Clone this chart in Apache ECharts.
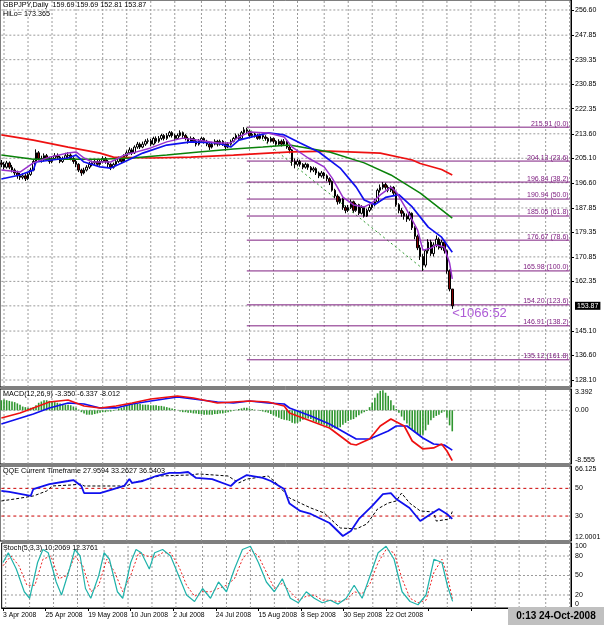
<!DOCTYPE html>
<html><head><meta charset="utf-8">
<script src="https://cdn.jsdelivr.net/npm/echarts@6/dist/echarts.min.js"></script>
<style>html,body{margin:0;padding:0;background:#fff}#c{width:604px;height:625px}</style>
</head><body><div id="c"></div>
<script>
// ---------- DATA ----------
const dateLabels = ['3 Apr 2008','25 Apr 2008','19 May 2008','10 Jun 2008','2 Jul 2008','24 Jul 2008','15 Aug 2008','8 Sep 2008','30 Sep 2008','22 Oct 2008'];
const priceTicks = [256.60,247.85,239.35,230.85,222.35,213.60,205.10,196.60,187.85,179.35,170.85,162.35,145.10,136.60,128.10];
const hiddenPriceTick = 153.85; // grid line behind the current-price box
const macdTicks = [3.392, 0, -8.555];
const qqeTicks = [66.125, 50, 30, 12.0001];
const stochTicks = [100, 80, 50, 20, 0];
const lastPrice = 153.87;
// candles: [open, close, low, high]
const ohlc = [
[203.5,203.0,202.0,204.5],[203.0,202.0,201.2,203.8],[202.0,203.5,201.5,204.2],[203.5,202.0,201.3,204.0],[202.0,201.0,200.2,202.8],
[201.0,200.0,199.2,201.6],[200.0,199.0,198.0,200.8],[199.0,198.5,197.6,200.0],[198.5,199.0,197.8,199.9],[199.0,198.0,197.2,199.6],
[198.0,199.5,197.5,200.2],[199.5,201.0,199.0,201.8],[201.0,204.0,200.6,204.6],[204.0,207.0,203.5,208.2],[207.0,205.0,204.3,207.6],
[205.0,204.5,203.6,206.0],[204.5,206.0,204.0,206.8],[206.0,205.0,204.2,206.6],[205.0,204.0,203.2,205.6],[204.0,205.0,203.4,205.8],
[205.0,206.0,204.5,206.9],[206.0,205.5,204.8,206.8],[205.5,204.0,203.4,206.0],[204.0,205.0,203.5,205.7],[205.0,206.0,204.6,207.0],
[206.0,206.2,205.0,207.2],[206.2,205.0,204.4,206.8],[205.0,204.0,203.2,205.5],[204.0,203.0,202.0,204.6],[203.0,201.0,200.3,203.4],
[201.0,200.0,199.0,201.5],[200.0,201.0,199.5,201.8],[201.0,202.0,200.5,202.7],[202.0,203.0,201.4,203.8],[203.0,203.5,202.3,204.3],
[203.5,204.0,202.8,204.9],[204.0,203.0,202.2,204.6],[203.0,204.0,202.5,204.7],[204.0,205.0,203.3,205.8],[205.0,204.0,203.2,205.6],
[204.0,203.0,202.0,204.5],[203.0,202.0,201.0,203.4],[202.0,203.0,201.5,203.6],[203.0,204.0,202.4,204.8],[204.0,205.0,203.5,205.7],
[205.0,204.0,203.3,205.6],[204.0,206.0,203.6,206.5],[206.0,207.0,205.4,207.8],[207.0,208.0,206.5,208.9],[208.0,207.0,206.2,208.6],
[207.0,209.0,206.6,209.6],[209.0,210.0,208.4,210.8],[210.0,209.0,208.3,210.6],[209.0,210.0,208.6,210.9],[210.0,211.0,209.4,211.7],
[211.0,211.2,210.2,212.0],[211.2,210.0,209.4,211.8],[210.0,212.0,209.6,212.6],[212.0,211.0,210.3,212.7],[211.0,212.0,210.5,212.8],
[212.0,213.0,211.4,213.6],[213.0,212.0,211.3,213.5],[212.0,213.0,211.5,213.8],[213.0,214.0,212.4,214.6],[214.0,213.0,212.3,214.5],
[213.0,212.0,211.2,213.6],[212.0,213.0,211.5,213.7],[213.0,214.0,212.6,214.8],[214.0,213.0,212.2,214.4],[213.0,212.0,211.3,213.5],
[212.0,211.0,210.2,212.6],[211.0,212.0,210.6,212.7],[212.0,211.0,210.4,212.5],[211.0,210.0,209.2,211.6],[210.0,211.0,209.5,211.8],
[211.0,212.0,210.4,212.6],[212.0,211.0,210.2,212.4],[211.0,210.0,209.3,211.5],[210.0,209.0,208.0,210.5],[209.0,210.0,208.5,210.8],
[210.0,211.0,209.6,211.7],[211.0,210.0,209.2,211.5],[210.0,211.0,209.5,211.6],[211.0,210.0,209.4,211.4],[210.0,209.0,207.8,210.4],
[209.0,210.0,208.6,210.7],[210.0,211.0,209.5,211.6],[211.0,212.0,210.6,212.5],[212.0,213.0,211.5,213.7],[213.0,212.0,211.4,213.5],
[212.0,214.0,211.7,214.6],[214.0,215.0,213.5,215.91],[215.0,214.5,213.8,215.7],[214.5,213.0,212.5,215.0],[213.0,213.5,212.4,214.3],
[213.5,213.0,212.3,214.0],[213.0,212.0,211.5,213.6],[212.0,213.0,211.6,213.7],[213.0,212.5,211.8,213.6],[212.5,212.0,211.2,213.1],
[212.0,211.0,210.3,212.4],[211.0,212.0,210.6,212.6],[212.0,211.0,210.2,212.3],[211.0,210.0,209.3,211.4],[210.0,211.0,209.6,211.7],
[211.0,210.0,209.2,211.6],[210.0,211.0,209.5,211.8],[211.0,209.0,208.4,211.3],[209.0,208.0,206.8,209.5],[208.0,204.0,202.5,208.3],
[204.0,203.0,201.6,205.0],[203.0,204.0,202.4,204.8],[204.0,203.0,202.2,204.6],[203.0,202.0,201.3,203.4],[202.0,203.0,201.5,203.6],
[203.0,202.0,201.1,203.3],[202.0,201.0,200.2,202.4],[201.0,201.5,200.3,202.2],[201.5,200.0,199.3,202.0],[200.0,199.0,198.2,200.5],
[199.0,200.0,198.4,200.7],[200.0,199.0,198.0,200.4],[199.0,198.0,197.1,199.5],[198.0,197.0,195.8,198.5],[197.0,194.0,193.5,197.4],
[194.0,192.0,191.2,194.5],[192.0,190.0,189.0,192.6],[190.0,191.0,189.3,191.8],[191.0,188.0,187.2,191.4],[188.0,187.0,186.0,188.7],
[187.0,188.0,186.4,188.9],[188.0,190.0,187.5,190.8],[190.0,187.0,186.2,190.4],[187.0,189.0,186.5,189.6],[189.0,186.0,185.4,189.3],
[186.0,188.0,185.6,188.8],[188.0,185.0,184.5,188.3],[185.0,187.0,184.7,187.6],[187.0,188.0,186.4,188.9],[188.0,189.0,187.3,189.8],
[189.0,190.0,188.4,191.0],[190.0,194.0,189.6,194.6],[194.0,195.0,193.2,196.0],[195.0,196.0,194.3,196.8],[196.0,195.0,194.2,196.6],
[195.0,194.0,193.3,195.7],[194.0,195.0,193.4,195.6],[195.0,193.0,192.0,195.4],[193.0,189.0,188.3,193.3],[189.0,187.0,186.0,189.5],
[187.0,186.0,184.8,187.8],[186.0,185.0,183.8,186.7],[185.0,184.0,183.0,185.9],[184.0,186.0,183.4,186.6],[186.0,181.0,180.2,186.3],
[181.0,178.0,177.0,181.5],[178.0,174.0,173.2,178.6],[174.0,171.0,169.8,175.0],[171.0,168.0,165.98,171.8],[168.0,173.0,167.2,173.6],
[173.0,176.0,172.0,177.0],[176.0,172.0,171.2,176.8],[172.0,175.0,171.0,175.9],[175.0,177.0,174.2,178.3],[177.0,174.0,173.4,177.6],
[174.0,176.0,173.2,176.8],[176.0,173.0,172.0,176.6],[173.0,166.0,165.0,173.4],[166.0,159.7,158.9,166.5],[159.69,153.87,152.81,159.69]
];
// moving averages: [barIndex, value]
const maRed = [[0,213.2],[12,211.4],[25,209.0],[37,206.9],[42,205.5],[56,205.2],[71,205.5],[87,206.2],[100,206.9],[109,207.3],[123,207.6],[142,206.9],[154,204.5],[157,203.3],[165,201.2],[169,199.3]];
const maGreen = [[0,206.2],[12,204.8],[25,204.8],[37,204.8],[49,205.2],[62,206.2],[74,207.3],[87,208.3],[98,209.0],[108,209.7],[123,207.3],[136,203.5],[146,199.3],[157,193.0],[169,184.3]];
const maBlue = [[0,197.9],[7,199.3],[12,201.0],[13,203.8],[25,205.2],[28,206.2],[31,203.8],[37,202.1],[41,201.7],[46,203.8],[53,206.9],[62,209.7],[71,210.8],[81,210.4],[86,209.0],[89,211.4],[100,213.9],[106,213.2],[112,210.4],[119,207.3],[127,201.7],[133,195.1],[136,190.6],[140,189.0],[144,191.5],[149,192.5],[154,188.2],[160,181.2],[165,177.7],[169,172.5]];
const maPurple = [[0,201.0],[7,200.3],[12,203.5],[18,205.5],[25,206.9],[28,207.3],[31,205.2],[34,203.8],[41,203.8],[46,206.2],[49,206.9],[56,208.7],[62,210.8],[68,212.1],[74,211.4],[81,210.4],[86,210.4],[89,212.5],[93,214.2],[100,213.9],[106,212.5],[109,209.0],[115,205.2],[121,202.1],[124,198.2],[128,191.6],[132,188.9],[136,188.2],[139,189.6],[142,192.4],[146,195.1],[148,193.4],[152,187.1],[156,180.2],[158,173.2],[161,173.9],[163,175.0],[166,174.3],[168,168.7],[169,163.2]];
const fibLevels = [215.91,204.13,196.84,190.94,185.05,176.67,165.98,154.20,146.91,135.12];
const fibNames = ['0.0','23.6','38.2','50.0','61.8','78.6','100.0','123.6','138.2','161.8'];
const fibStartBar = 92;
const fibTrend = [[92,215.91],[159,165.98]];
const timerText = '<1066:52';
const timerPoint = [169, 151.3];
// MACD
const macdHist = [
1.6,1.7,1.6,1.5,1.4,1.3,1.1,0.9,0.6,0.5,0.4,0.4,0.5,0.8,1.2,1.4,1.6,1.6,1.5,1.4,
1.3,1.2,1.1,1.0,0.9,0.9,0.8,0.6,0.4,0.1,-0.3,-0.5,-0.7,-0.7,-0.7,-0.6,-0.5,-0.4,-0.3,-0.3,
-0.2,-0.2,-0.1,0.1,0.3,0.4,0.6,0.8,1.0,1.0,1.1,1.0,1.0,0.9,0.9,0.9,0.8,0.8,0.8,0.7,
0.7,0.6,0.5,0.4,0.3,0.2,0.0,-0.2,-0.3,-0.3,-0.4,-0.4,-0.5,-0.5,-0.6,-0.6,-0.7,-0.7,-0.7,-0.7,
-0.6,-0.6,-0.5,-0.5,-0.4,-0.3,-0.2,-0.1,0.1,0.2,0.3,0.4,0.4,0.3,0.2,0.1,0.0,-0.1,-0.2,-0.3,
-0.4,-0.6,-0.8,-1.0,-1.2,-1.4,-1.5,-1.6,-1.7,-2.0,-2.1,-2.0,-1.8,-1.5,-1.3,-1.3,-1.4,-1.7,-1.9,-2.1,
-2.2,-2.3,-2.5,-2.7,-2.8,-2.9,-2.9,-2.7,-2.3,-2.0,-1.7,-1.5,-1.4,-1.1,-0.8,-0.5,-0.3,-0.1,0.5,1.2,
2.0,2.7,3.1,3.2,2.8,2.3,1.6,0.8,0.2,-0.4,-1.0,-1.6,-2.1,-2.6,-3.0,-3.5,-3.8,-4.0,-3.9,-3.2,
-2.3,-1.6,-1.2,-0.9,-0.7,-0.4,-0.2,-1.2,-2.4,-3.35];
const macdBlue = [[0,-2.18],[12,-0.59],[18,0.37],[25,1.16],[31,1.00],[37,0.37],[43,0.37],[49,1.00],[56,1.48],[66,2.12],[72,1.80],[81,1.32],[87,1.16],[93,1.48],[100,1.16],[106,1.00],[108,0.37],[116,-0.91],[123,-2.18],[133,-4.57],[138,-4.57],[145,-3.30],[148,-2.50],[152,-2.50],[158,-4.41],[162,-5.37],[166,-5.53],[169,-6.34]];
const macdRed = [[0,-1.23],[7,-0.43],[12,0.37],[18,1.32],[25,1.64],[31,0.68],[37,0.37],[43,0.68],[49,1.16],[56,1.80],[66,2.28],[72,1.96],[81,1.16],[87,1.32],[93,1.48],[100,1.32],[106,0.68],[108,-0.43],[116,-1.70],[123,-2.82],[131,-5.37],[133,-5.53],[138,-4.57],[142,-2.50],[146,-1.39],[151,-2.50],[154,-4.89],[158,-6.16],[162,-6.00],[165,-5.37],[167,-6.48],[169,-8.01]];
// QQE
const qqeFast = [[0,48.1],[3,47.4],[11,44.5],[12,49.5],[18,53.1],[25,55.3],[27,56.0],[30,51.7],[31,46.6],[37,46.6],[42,49.5],[46,51.7],[48,56.7],[49,53.9],[53,55.3],[58,58.9],[63,61.1],[67,61.1],[70,61.8],[73,57.5],[79,56.7],[86,51.7],[88,55.3],[92,59.6],[98,57.5],[101,55.3],[106,49.5],[108,39.0],[112,33.7],[116,31.5],[123,25.0],[128,15.6],[131,19.2],[134,27.9],[139,37.3],[143,45.9],[146,46.6],[148,42.3],[153,35.8],[157,26.4],[161,31.5],[164,35.1],[167,31.5],[169,27.96]];
const qqeSlow = [[0,40.9],[5,42.3],[12,44.5],[17,48.1],[19,51.7],[26,52.4],[30,53.1],[31,51.7],[47,51.7],[49,53.9],[55,56.7],[59,58.9],[70,59.6],[74,60.4],[85,58.9],[89,53.9],[92,56.7],[100,58.9],[103,53.9],[108,43.0],[112,39.4],[116,35.8],[121,32.2],[127,21.4],[133,20.7],[137,24.3],[141,35.1],[145,39.4],[148,40.9],[150,46.6],[153,39.4],[157,33.7],[162,32.9],[163,26.4],[168,27.9],[169,33.26]];
// Stochastic
const stochMain = [[0,70],[2,85],[5,60],[8,25],[10,15],[13,70],[15,90],[17,85],[20,40],[22,20],[25,60],[27,90],[29,80],[31,30],[33,15],[36,50],[38,85],[40,75],[43,25],[45,15],[48,70],[50,90],[52,85],[55,60],[57,85],[60,90],[63,80],[66,50],[69,20],[72,10],[75,30],[78,15],[81,40],[84,25],[87,60],[90,90],[93,95],[96,70],[99,40],[102,25],[105,45],[108,15],[111,8],[114,25],[117,15],[120,8],[123,12],[126,6],[129,15],[132,35],[135,15],[138,50],[141,85],[144,95],[147,75],[150,25],[153,10],[156,5],[159,20],[162,75],[165,70],[167,35],[169,10.21]];
const stochSignal = [[0,65],[3,80],[6,65],[9,35],[12,35],[15,75],[18,80],[21,45],[24,50],[27,80],[30,65],[33,25],[36,35],[39,75],[42,55],[45,25],[48,50],[51,85],[54,80],[57,78],[60,85],[63,85],[66,65],[69,35],[72,18],[75,25],[78,25],[81,30],[84,35],[87,45],[90,75],[93,90],[96,80],[99,55],[102,30],[105,38],[108,25],[111,12],[114,18],[117,20],[120,12],[123,12],[126,10],[129,12],[132,25],[135,22],[138,38],[141,70],[144,90],[147,85],[150,45],[153,15],[156,8],[159,12],[162,55],[165,75],[167,50],[169,12.38]];

// ---------- CHART ----------
const FONT = '"Liberation Sans", Arial, sans-serif';
const FS = 7;
const N = 214;            // bar slots across the plot (chart shift on the right)
const SLOT = 571 / N;     // pixel width of a bar slot (layout only)
const GRID_STEP = 24.6;   // MT4 dotted-grid pixel spacing (layout only)
const cats = Array.from({length: N}, (_, i) => String(i));
const chart = echarts.init(document.getElementById('c'), null, {renderer: 'canvas', width: 604, height: 625});

const gridDefs = [
  {top: 0, height: 387},
  {top: 389, height: 75},
  {top: 466, height: 75},
  {top: 543, height: 65}
];
const grids = gridDefs.map(g => ({left: 0, right: 33, top: g.top, height: g.height, show: true, borderColor: '#000', borderWidth: 1}));

const xAxes = [0, 1, 2, 3].map(g => ({
  type: 'category', gridIndex: g, data: cats, boundaryGap: true,
  axisLine: {show: g === 3, lineStyle: {color: '#000'}},
  axisTick: {show: g === 3, interval: 15, alignWithLabel: true, length: 3, lineStyle: {color: '#000'}},
  axisLabel: {show: g === 3, interval: 15, align: 'left', margin: 4, fontSize: 6.8, fontFamily: FONT, color: '#000',
    formatter: (v, i) => dateLabels[i / 16] || ''},
  splitLine: {show: false}
}));
const yCommon = {position: 'right', axisLine: {show: true, lineStyle: {color: '#000'}}, axisTick: {show: false}, splitLine: {show: false}};
const labelCommon = {fontSize: FS, fontFamily: FONT, color: '#000', margin: 4};
const yRange = [[125.67, 260.07], [-8.555, 3.392], [12.0001, 66.125], [0, 100]];
const yAxes = [
  Object.assign({}, yCommon, {
    type: 'value', gridIndex: 0, min: yRange[0][0], max: yRange[0][1],
    axisTick: {show: true, length: 3, customValues: priceTicks, lineStyle: {color: '#000'}},
    axisLabel: Object.assign({}, labelCommon, {showMinLabel: true, showMaxLabel: true, customValues: priceTicks,
      formatter: v => { const m = priceTicks.find(t => Math.abs(t - v) < 0.6); return m !== undefined ? m.toFixed(2) : ''; }})
  }),
  Object.assign({}, yCommon, {
    type: 'value', gridIndex: 1, min: yRange[1][0], max: yRange[1][1],
    axisLabel: Object.assign({}, labelCommon, {customValues: macdTicks, showMinLabel: true, showMaxLabel: true,
      verticalAlignMinLabel: 'top', verticalAlignMaxLabel: 'bottom',
      formatter: v => { const m = macdTicks.find(t => Math.abs(t - v) < 1e-6); return m === undefined ? '' : (m === 0 ? '0.00' : String(m)); }})
  }),
  Object.assign({}, yCommon, {
    type: 'value', gridIndex: 2, min: yRange[2][0], max: yRange[2][1],
    axisLabel: Object.assign({}, labelCommon, {customValues: qqeTicks, showMinLabel: true, showMaxLabel: true,
      verticalAlignMinLabel: 'top', verticalAlignMaxLabel: 'bottom',
      formatter: v => { const m = qqeTicks.find(t => Math.abs(t - v) < 1e-6); return m === undefined ? '' : String(m); }})
  }),
  Object.assign({}, yCommon, {
    type: 'value', gridIndex: 3, min: yRange[3][0], max: yRange[3][1],
    axisLabel: Object.assign({}, labelCommon, {customValues: stochTicks, showMinLabel: true, showMaxLabel: true,
      verticalAlignMinLabel: 'top', verticalAlignMaxLabel: 'bottom',
      formatter: v => stochTicks.indexOf(v) >= 0 ? String(v) : ''})
  })
];

function lineS(name, data, xi, yi, color, width, type, z) {
  return {name, type: 'line', xAxisIndex: xi, yAxisIndex: yi, data, showSymbol: false, symbol: 'none',
    lineStyle: {color, width, type: type || 'solid'}, z: z || 3, silent: true};
}

// dotted background grid (MT4 pixel grid), as broken polylines snapped to bar slots
const GRID_COLOR = '#9a9a9a';
const vGridIdx = [];
for (let px = 3.4; px < 571; px += GRID_STEP) vGridIdx.push(Math.round(px / SLOT - 0.5));
function gridSeries(g, hLevels, color) {
  const d = [];
  const [lo, hi] = yRange[g];
  vGridIdx.forEach(i => { d.push([i, lo], [i, hi], [i, '-']); });
  hLevels.forEach(v => { d.push([0, v], [N - 1, v], [N - 1, '-']); });
  return {type: 'line', xAxisIndex: g, yAxisIndex: g, data: d, showSymbol: false, symbol: 'none', silent: true,
    connectNulls: false, z: 1, lineStyle: {color: color || GRID_COLOR, width: 1, type: [2, 2]}};
}
function levelSeries(g, levels, color) {
  const d = [];
  levels.forEach(v => { d.push([0, v], [N - 1, v], [N - 1, '-']); });
  return {type: 'line', xAxisIndex: g, yAxisIndex: g, data: d, showSymbol: false, symbol: 'none', silent: true,
    connectNulls: false, z: 1, lineStyle: {color, width: 1, type: [3, 3]}};
}

const FIB = '#7f1f80';
const fibSeries = fibLevels.map((v, k) => ({
  type: 'line', xAxisIndex: 0, yAxisIndex: 0, data: [[fibStartBar, v], [N - 1, v]], showSymbol: false, symbol: 'none', silent: true, z: 2,
  lineStyle: {color: FIB, width: 1},
  endLabel: {show: true, formatter: v.toFixed(2) + ' (' + fibNames[k] + ')', color: FIB, fontSize: FS, fontFamily: FONT,
    align: 'right', verticalAlign: 'bottom', distance: 0, offset: [-1, 0]}
}));

const series = [
  gridSeries(0, priceTicks.concat([hiddenPriceTick])),
  gridSeries(1, [0]),
  gridSeries(2, []),
  gridSeries(3, [80, 50, 20]),
  levelSeries(2, [50, 30], '#cc0000'),
  lineS('fibTrend', fibTrend, 0, 0, '#2e9a2e', 1, [2, 3], 2),
  {type: 'candlestick', xAxisIndex: 0, yAxisIndex: 0, data: ohlc, barWidth: 2, z: 4,
   itemStyle: {color: '#ffffff', color0: '#800000', borderColor: '#000', borderColor0: '#000', borderWidth: 1},
   markLine: {silent: true, symbol: ['none', 'none'], animation: false,
     data: [{yAxis: lastPrice, lineStyle: {color: 'rgba(0,0,0,0)', width: 0},
       label: {show: true, position: 'end', distance: 4, formatter: lastPrice.toFixed(2), color: '#fff', backgroundColor: '#000',
         padding: [1, 2, 0, 2], fontSize: FS, fontFamily: FONT}}]}},
  lineS('ma200', maRed, 0, 0, '#ee1111', 1.7, null, 5),
  lineS('ma50', maGreen, 0, 0, '#0a820a', 1.5, null, 5),
  lineS('ma20', maBlue, 0, 0, '#1010ee', 1.7, null, 5),
  lineS('ema5', maPurple, 0, 0, '#9932cc', 1.5, null, 5),
  {type: 'scatter', xAxisIndex: 0, yAxisIndex: 0, data: [timerPoint], symbolSize: 1, itemStyle: {color: 'rgba(0,0,0,0)'}, z: 6,
   label: {show: true, position: 'inside', align: 'left', verticalAlign: 'middle', formatter: timerText,
     color: '#9932cc', fontSize: 13, fontFamily: FONT}},
  {type: 'bar', xAxisIndex: 1, yAxisIndex: 1, data: macdHist, barWidth: 1.6, itemStyle: {color: '#2f962f'}, z: 2},
  lineS('macdBlue', macdBlue, 1, 1, '#1010ee', 1.7),
  lineS('macdRed', macdRed, 1, 1, '#ee1111', 1.7),
  lineS('qqeSlow', qqeSlow, 2, 2, '#000', 1, [3, 2]),
  lineS('qqeFast', qqeFast, 2, 2, '#1010ee', 1.8),
  lineS('stochSig', stochSignal, 3, 3, '#ee2222', 1, [2, 2]),
  lineS('stochMain', stochMain, 3, 3, '#20b2aa', 1.2)
].concat(fibSeries);

const txt = (t, x, y) => ({type: 'text', x, y, silent: true, z: 10,
  style: {text: t, font: '7.2px ' + FONT, fill: '#000', textVerticalAlign: 'top'}});

chart.setOption({
  animation: false,
  backgroundColor: '#fff',
  grid: grids,
  xAxis: xAxes,
  yAxis: yAxes,
  series,
  graphic: [
    txt('GBPJPY,Daily  159.69 159.69 152.81 153.87', 3, 2),
    txt('HiLo= 173.365', 3, 11),
    txt('MACD(12,26,9) -3.350 -6.337 -8.012', 3, 391),
    txt('QQE Current Timeframe 27.9594 33.2627 36.5403', 3, 468),
    txt('Stoch(5,3,3) 10.2069 12.3761', 3, 545),
    {type: 'rect', shape: {x: 508, y: 607, width: 96, height: 18}, style: {fill: '#c0c0c0'}, z: 20, silent: true},
    {type: 'text', x: 556, y: 616, z: 21, silent: true,
     style: {text: '0:13 24-Oct-2008', font: 'bold 10px ' + FONT, fill: '#000', textAlign: 'center', textVerticalAlign: 'middle'}}
  ]
});
</script>
</body></html>
